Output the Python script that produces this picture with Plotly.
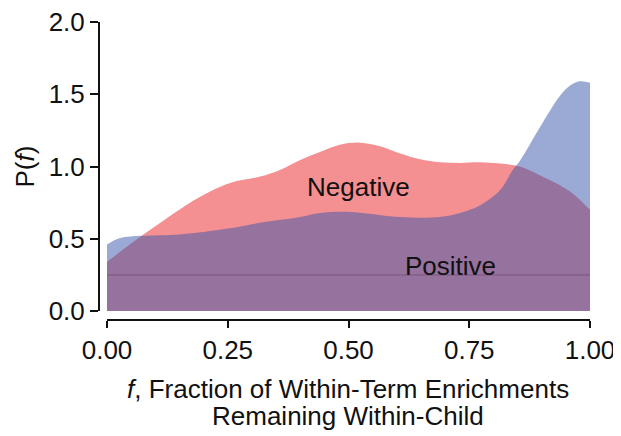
import plotly.graph_objects as go

# Density estimates
neg_f = [0.0, 0.072, 0.193, 0.255, 0.317, 0.358, 0.40, 0.441, 0.482, 0.524,
         0.565, 0.607, 0.648, 0.689, 0.731, 0.772, 0.814, 0.855, 0.896, 0.938, 0.969, 1.0]
neg_p = [0.34, 0.52, 0.79, 0.886, 0.93, 0.976, 1.045, 1.10, 1.15, 1.165,
         1.14, 1.09, 1.05, 1.03, 1.025, 1.03, 1.02, 1.0, 0.94, 0.87, 0.80, 0.70]

pos_f = [0.0, 0.027, 0.072, 0.151, 0.255, 0.317, 0.40, 0.441, 0.482, 0.524,
         0.607, 0.689, 0.731, 0.772, 0.814, 0.84, 0.855, 0.896, 0.938, 0.959, 0.979, 1.0]
pos_p = [0.46, 0.505, 0.52, 0.53, 0.572, 0.61, 0.65, 0.678, 0.687, 0.68,
         0.65, 0.65, 0.678, 0.73, 0.837, 0.976, 1.04, 1.27, 1.49, 1.56, 1.59, 1.58]

ref_level = 0.25
x_ticks = [0.0, 0.25, 0.5, 0.75, 1.0]
x_ticktext = ["0.00", "0.25", "0.50", "0.75", "1.00"]
y_ticks = [0.0, 0.5, 1.0, 1.5, 2.0]
y_ticktext = ["0.0", "0.5", "1.0", "1.5", "2.0"]
x_title_lines = ["<i>f</i>, Fraction of Within-Term Enrichments", "Remaining Within-Child"]
y_title = "P(<i>f</i>)"

FONT = "Arial, Liberation Sans, sans-serif"
FS = 26

fig = go.Figure()
fig.add_trace(go.Scatter(
    x=neg_f, y=neg_p, mode="lines", fill="tozeroy",
    line=dict(width=0, shape="spline", smoothing=1.0),
    fillcolor="rgba(233,31,37,0.5)", hoverinfo="skip", showlegend=False))
fig.add_trace(go.Scatter(
    x=pos_f, y=pos_p, mode="lines", fill="tozeroy",
    line=dict(width=0, shape="spline", smoothing=1.0),
    fillcolor="rgba(55,85,169,0.5)", hoverinfo="skip", showlegend=False))
fig.add_trace(go.Scatter(
    x=[x_ticks[0], x_ticks[-1]], y=[ref_level, ref_level], mode="lines",
    line=dict(width=1.5, color="rgba(90,50,80,0.3)"),
    hoverinfo="skip", showlegend=False))

fig.add_annotation(x=0.52, y=0.86, text="Negative", showarrow=False,
                   font=dict(family=FONT, size=FS, color="#111"))
fig.add_annotation(x=0.712, y=0.31, text="Positive", showarrow=False,
                   font=dict(family=FONT, size=FS, color="#111"))

# axis titles
fig.add_annotation(xref="paper", yref="paper", x=0.5443, y=0, yshift=-69,
                   text=x_title_lines[0], showarrow=False, yanchor="middle",
                   font=dict(family=FONT, size=FS, color="#111"))
fig.add_annotation(xref="paper", yref="paper", x=0.5443, y=0, yshift=-96,
                   text=x_title_lines[1], showarrow=False, yanchor="middle",
                   font=dict(family=FONT, size=FS, color="#111"))
fig.add_annotation(xref="paper", yref="y", x=0, y=1.0, xshift=-36,
                   text=y_title, showarrow=False, textangle=-90,
                   xanchor="center", yanchor="middle",
                   font=dict(family=FONT, size=FS, color="#111"))

# page body has an 8px margin, so the figure is sized to fit the window
fig.update_layout(
    width=613, height=428,
    margin=dict(l=52, r=31, t=14, b=116),
    paper_bgcolor="white", plot_bgcolor="white",
    font=dict(family=FONT, size=FS, color="#111"),
    xaxis=dict(
        domain=[0.0887, 1.0], range=[0, 1], anchor="free", position=0,
        showline=True, linewidth=2, linecolor="#111",
        ticks="outside", ticklen=7, tickwidth=2, tickcolor="#111",
        tickvals=x_ticks, ticktext=x_ticktext,
        showgrid=False, zeroline=False, automargin=False,
        ticklabeloverflow="allow", tickfont=dict(size=FS),
    ),
    yaxis=dict(
        domain=[0.0302, 1.0], range=[0, 2], anchor="free", position=0.0736,
        showline=True, linewidth=2, linecolor="#111",
        ticks="outside", ticklen=8, tickwidth=2, tickcolor="#111",
        tickvals=y_ticks, ticktext=y_ticktext,
        showgrid=False, zeroline=False, automargin=False,
        ticklabeloverflow="allow", tickfont=dict(size=FS),
    ),
)

fig.write_html("out.html")
